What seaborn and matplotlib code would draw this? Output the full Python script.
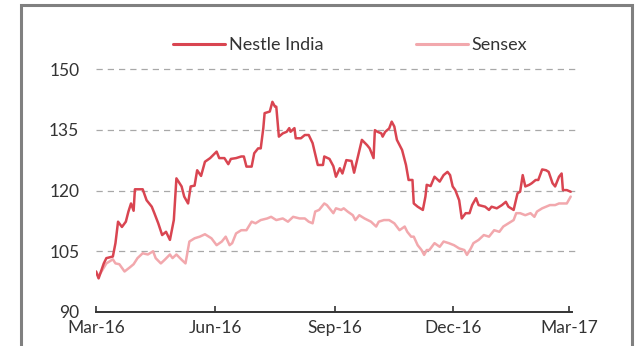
import matplotlib
matplotlib.use("Agg")
import matplotlib.pyplot as plt
import matplotlib.dates as mdates
from matplotlib.patches import Rectangle
import pandas as pd
import seaborn as sns

# Nestle India vs Sensex, rebased to 100 on 1 Mar 2016
nestle_dates = [
    "2016-03-01", "2016-03-03", "2016-03-07", "2016-03-09", "2016-03-14", "2016-03-16", "2016-03-18",
    "2016-03-21", "2016-03-24", "2016-03-26", "2016-03-28", "2016-03-30", "2016-03-31",
    "2016-04-06", "2016-04-09", "2016-04-13", "2016-04-15", "2016-04-18", "2016-04-21", "2016-04-24",
    "2016-04-27", "2016-04-30",
    "2016-05-02", "2016-05-06", "2016-05-08", "2016-05-11", "2016-05-13", "2016-05-16", "2016-05-18",
    "2016-05-21", "2016-05-24", "2016-05-28",
    "2016-06-02", "2016-06-04", "2016-06-08", "2016-06-11", "2016-06-13", "2016-06-17", "2016-06-21",
    "2016-06-23", "2016-06-25", "2016-06-29",
    "2016-07-01", "2016-07-04", "2016-07-06", "2016-07-08", "2016-07-09", "2016-07-13", "2016-07-15",
    "2016-07-17", "2016-07-18", "2016-07-20", "2016-07-23", "2016-07-26", "2016-07-28", "2016-07-29",
    "2016-08-01", "2016-08-02", "2016-08-06", "2016-08-09", "2016-08-12", "2016-08-15", "2016-08-19",
    "2016-08-23", "2016-08-24", "2016-08-28", "2016-08-31",
    "2016-09-02", "2016-09-05", "2016-09-07", "2016-09-10", "2016-09-14", "2016-09-16", "2016-09-19",
    "2016-09-22", "2016-09-26", "2016-09-28",
    "2016-10-01", "2016-10-02", "2016-10-04", "2016-10-07", "2016-10-08", "2016-10-10", "2016-10-13",
    "2016-10-15", "2016-10-17", "2016-10-19", "2016-10-23", "2016-10-26", "2016-10-28", "2016-10-31",
    "2016-11-01", "2016-11-04", "2016-11-08", "2016-11-10", "2016-11-11", "2016-11-14", "2016-11-17",
    "2016-11-21", "2016-11-24", "2016-11-27", "2016-11-29",
    "2016-12-01", "2016-12-03", "2016-12-06", "2016-12-08", "2016-12-11", "2016-12-14", "2016-12-16",
    "2016-12-19", "2016-12-21", "2016-12-26", "2016-12-29", "2016-12-31",
    "2017-01-04", "2017-01-08", "2017-01-11", "2017-01-13", "2017-01-17", "2017-01-20", "2017-01-22",
    "2017-01-24", "2017-01-26", "2017-01-29", "2017-01-31",
    "2017-02-03", "2017-02-05", "2017-02-08", "2017-02-11", "2017-02-13", "2017-02-16", "2017-02-18",
    "2017-02-21", "2017-02-23", "2017-02-24", "2017-02-27",
    "2017-03-02",
]
nestle_values = [
    100.0, 98.3, 102.0, 103.3, 103.7, 107.0, 112.3, 111.0, 112.3, 114.8, 116.8, 115.0, 120.3,
    120.3, 117.6, 116.0, 114.4, 111.9, 109.0, 109.8, 107.8, 112.7,
    123.0, 121.0, 118.5, 116.8, 121.0, 121.2, 125.0, 123.6, 127.1, 128.0,
    129.6, 128.0, 128.0, 126.5, 127.8, 128.0, 128.4, 128.4, 125.9, 125.9,
    129.2, 130.4, 130.4, 135.4, 139.1, 139.5, 141.9, 140.7, 140.7, 133.3, 134.1, 134.5, 135.4, 134.5,
    135.4, 132.9, 132.9, 133.7, 133.7, 131.7, 126.3, 126.3, 128.4, 127.8, 126.0,
    123.4, 125.5, 124.2, 127.5, 127.3, 124.4, 128.4, 132.5, 131.2, 130.4,
    128.0, 134.9, 134.5, 134.1, 133.3, 134.5, 135.3, 137.0, 135.8, 132.5, 130.0, 126.3, 122.6, 122.6,
    116.8, 116.0, 115.2, 118.5, 121.4, 121.1, 123.4, 122.2, 123.8, 124.6, 123.8,
    121.0, 120.1, 117.6, 113.1, 114.4, 114.4, 116.4, 118.1, 116.4, 116.0, 115.2, 116.0,
    115.6, 116.4, 117.2, 116.0, 115.2, 119.3, 119.7, 123.8, 121.0, 121.4, 121.8,
    122.6, 122.6, 125.2, 125.0, 124.6, 121.8, 121.0, 123.4, 124.2, 120.1, 120.1,
    119.7,
]

sensex_dates = [
    "2016-03-01", "2016-03-03", "2016-03-09", "2016-03-14", "2016-03-16", "2016-03-19", "2016-03-23",
    "2016-03-27", "2016-03-30",
    "2016-04-02", "2016-04-06", "2016-04-10", "2016-04-14", "2016-04-16", "2016-04-20", "2016-04-23",
    "2016-04-27", "2016-04-29",
    "2016-05-02", "2016-05-06", "2016-05-09", "2016-05-12", "2016-05-16", "2016-05-20", "2016-05-24",
    "2016-05-29",
    "2016-06-02", "2016-06-06", "2016-06-09", "2016-06-12", "2016-06-14", "2016-06-17", "2016-06-21",
    "2016-06-25", "2016-06-29",
    "2016-07-02", "2016-07-06", "2016-07-11", "2016-07-14", "2016-07-18", "2016-07-23", "2016-07-27",
    "2016-07-31",
    "2016-08-05", "2016-08-09", "2016-08-12", "2016-08-15", "2016-08-17", "2016-08-20", "2016-08-24",
    "2016-08-26", "2016-08-31",
    "2016-09-02", "2016-09-06", "2016-09-08", "2016-09-11", "2016-09-15", "2016-09-17", "2016-09-20",
    "2016-09-24", "2016-09-29",
    "2016-10-03", "2016-10-05", "2016-10-09", "2016-10-13", "2016-10-17", "2016-10-21", "2016-10-25",
    "2016-10-27", "2016-10-30",
    "2016-11-01", "2016-11-04", "2016-11-07", "2016-11-09", "2016-11-11", "2016-11-13", "2016-11-17",
    "2016-11-21", "2016-11-24", "2016-11-28",
    "2016-12-02", "2016-12-06", "2016-12-10", "2016-12-12", "2016-12-15", "2016-12-17", "2016-12-21",
    "2016-12-25", "2016-12-29",
    "2017-01-02", "2017-01-06", "2017-01-09", "2017-01-13", "2017-01-17", "2017-01-19", "2017-01-22",
    "2017-01-26", "2017-01-30",
    "2017-02-02", "2017-02-04", "2017-02-08", "2017-02-11", "2017-02-14", "2017-02-18", "2017-02-21",
    "2017-02-27",
    "2017-03-02",
]
sensex_values = [
    100.0, 98.8, 102.0, 103.0, 102.0, 101.8, 100.0, 101.0, 101.8,
    103.3, 104.5, 104.2, 105.0, 103.3, 102.0, 102.9, 104.2, 103.3,
    104.2, 102.9, 102.0, 107.4, 108.2, 108.6, 109.2, 108.2,
    106.5, 107.4, 108.6, 106.5, 107.0, 109.4, 110.2, 110.2, 112.3,
    111.9, 112.7, 113.1, 113.5, 112.7, 113.1, 112.3, 113.5,
    113.1, 113.1, 112.3, 111.9, 114.8, 115.2, 116.8, 116.4, 114.4,
    115.6, 115.2, 115.6, 114.8, 113.9, 112.7, 113.9, 113.1, 112.3,
    111.1, 112.3, 112.7, 112.7, 111.9, 110.2, 111.1, 109.8, 108.6,
    108.6, 106.5, 105.3, 104.1, 105.3, 105.3, 107.0, 106.1, 107.4, 107.0,
    106.5, 105.7, 105.3, 104.1, 105.7, 107.0, 107.8, 109.0, 108.6,
    110.2, 109.8, 111.1, 111.9, 112.7, 114.4, 114.4, 113.9, 114.4,
    113.5, 114.8, 115.6, 116.0, 116.4, 116.4, 116.8, 116.8,
    118.5,
]

series_names = ["Nestle India", "Sensex"]
series_colors = ["#d94551", "#f2a8ad"]
y_ticks = [90, 105, 120, 135, 150]
x_ticks = ["2016-03-01", "2016-06-01", "2016-09-01", "2016-12-01", "2017-03-01"]

df = pd.concat([
    pd.DataFrame({"date": pd.to_datetime(nestle_dates), "value": nestle_values, "series": series_names[0]}),
    pd.DataFrame({"date": pd.to_datetime(sensex_dates), "value": sensex_values, "series": series_names[1]}),
], ignore_index=True)

sns.set_theme(style="white")
plt.rcParams["font.family"] = ["Lato", "DejaVu Sans"]
text_color = "#333333"

fig = plt.figure(figsize=(6.35, 3.46), dpi=100)
ax = fig.add_axes([96 / 635, 1 - 312 / 346, 476 / 635, 243 / 346])

sns.lineplot(data=df, x="date", y="value", hue="series", hue_order=series_names,
             palette=dict(zip(series_names, series_colors)), linewidth=1.8,
             ax=ax, legend=False)
# Nestle above Sensex
ax.lines[0].set_zorder(4)
ax.lines[1].set_zorder(3)

ax.set_xlim(pd.Timestamp("2016-03-01"), pd.Timestamp("2017-03-03"))
ax.set_ylim(90, 150)
ax.set_xlabel("")
ax.set_ylabel("")

ax.set_yticks(y_ticks)
ax.set_xticks(pd.to_datetime(x_ticks))
ax.xaxis.set_major_formatter(mdates.DateFormatter("%b-%y"))

for y in y_ticks[1:]:
    ax.axhline(y, color="#a8a8a8", linewidth=0.9, linestyle=(0, (5, 4)), zorder=1,
               xmax=1.012, clip_on=False)

for s in ["top", "right", "left"]:
    ax.spines[s].set_visible(False)
ax.spines["bottom"].set_color(text_color)
ax.spines["bottom"].set_linewidth(1.4)

ax.tick_params(axis="x", direction="in", length=4, width=1.2, color=text_color,
               labelsize=12.5, labelcolor=text_color, pad=6, bottom=True)
ax.tick_params(axis="y", length=0, labelsize=12.5, labelcolor=text_color, pad=12)

handles = [plt.Line2D([], [], color=c, linewidth=2.2) for c in series_colors]
ax.legend(handles, series_names, loc="center left", bbox_to_anchor=(0.1618, 1.099), ncol=2,
          frameon=False, fontsize=13, handlelength=2.88, handletextpad=0.22,
          columnspacing=5.1, labelcolor=text_color, borderpad=0, borderaxespad=0)

fig.patches.append(Rectangle((21 / 635, -0.1), 611 / 635, 1.1 - 5 / 346, fill=False,
                             edgecolor="#808080", linewidth=2.2, transform=fig.transFigure,
                             clip_on=False))

fig.savefig("out.png", dpi=100, facecolor="white")
